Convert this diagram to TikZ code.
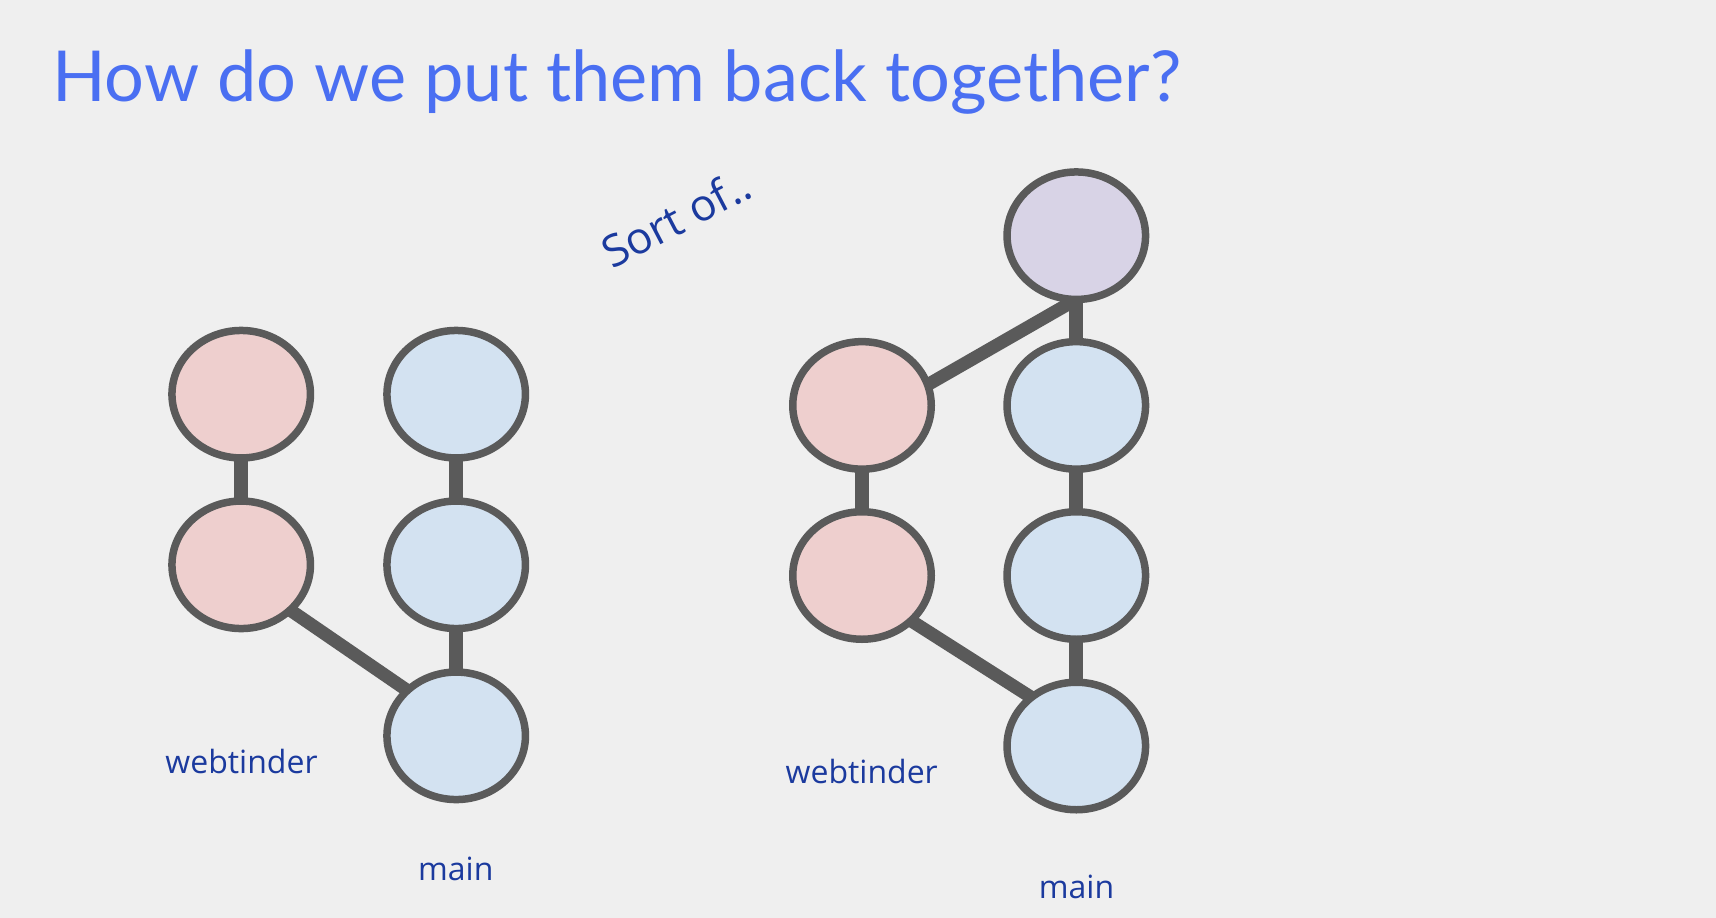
\documentclass[tikz,border=0pt]{standalone}
\usepackage{fontspec}
\setmainfont{Open Sans}
\newfontfamily\titlefont{Lato}
\usetikzlibrary{shapes.geometric,backgrounds}
\definecolor{bgc}{HTML}{EFEFEF}
\definecolor{edgec}{HTML}{5A5A5A}
\definecolor{pinkc}{HTML}{EECFCE}
\definecolor{bluec}{HTML}{D3E2F1}
\definecolor{purplec}{HTML}{D8D3E6}
\definecolor{titlec}{HTML}{4A6FF2}
\definecolor{labelc}{HTML}{1B3A9E}
\tikzset{
  commit/.style={ellipse, draw=edgec, line width=7.5pt, minimum width=138.5pt, minimum height=127.5pt, inner sep=0pt, outer sep=0pt},
  pinknode/.style={commit, fill=pinkc},
  bluenode/.style={commit, fill=bluec},
  purplenode/.style={commit, fill=purplec},
  vlink/.style={draw=edgec, line width=14pt},
  dlink/.style={draw=edgec, line width=13pt},
  lbl/.style={text=labelc, font=\fontsize{32}{38}\selectfont, anchor=base, inner sep=0pt},
}
\begin{document}
\begin{tikzpicture}[x=1pt,y=-1pt]
\useasboundingbox (0,0) rectangle (1716,918);
% title
\node[anchor=base west, inner sep=0pt, text=titlec, font=\titlefont\fontsize{70.3}{82}\selectfont] (title) at (52,101) {How do we put them back together?};
\node[text=labelc, font=\fontsize{44}{50}\selectfont, rotate=27.5, inner sep=0pt] (sortof) at (676,218) {Sort of..};
% left graph
\node[pinknode] (lp1) at (241.2,394.2) {};
\node[pinknode] (lp2) at (241.2,564.8) {};
\node[bluenode] (lb1) at (456.2,394.2) {};
\node[bluenode] (lb2) at (456.2,564.8) {};
\node[bluenode] (lb3) at (456.2,735.8) {};
\node[lbl] (lweb) at (241.5,773) {webtinder};
\node[lbl] (lmain) at (455.8,880) {main};
% right graph
\node[purplenode] (rp) at (1076.3,235.7) {};
\node[pinknode] (rp1) at (862,405.4) {};
\node[pinknode] (rp2) at (862,575.5) {};
\node[bluenode] (rb1) at (1076.3,405.4) {};
\node[bluenode] (rb2) at (1076.3,575.5) {};
\node[bluenode] (rb3) at (1076.3,746) {};
\node[lbl] (rweb) at (861.7,783) {webtinder};
\node[lbl] (rmain) at (1076.5,898) {main};
\begin{scope}[on background layer]
\fill[bgc] (0,0) rectangle (1716,918);
\draw[vlink] (lp1.center) -- (lp2.center);
\draw[vlink] (lb1.center) -- (lb2.center);
\draw[vlink] (lb2.center) -- (lb3.center);
\draw[dlink] ([yshift=-11.7pt]lp2.center) -- ([yshift=11.8pt]lb3.center);
\draw[vlink] (rp.center) -- (rb1.center);
\draw[vlink] (rb1.center) -- (rb2.center);
\draw[vlink] (rb2.center) -- (rb3.center);
\draw[vlink] (rp1.center) -- (rp2.center);
\draw[dlink] ([yshift=-17pt]rp1.center) -- (rp.south);
\draw[dlink] ([yshift=-14pt]rp2.center) -- ([yshift=20pt]rb3.center);
\end{scope}
\end{tikzpicture}
\end{document}
